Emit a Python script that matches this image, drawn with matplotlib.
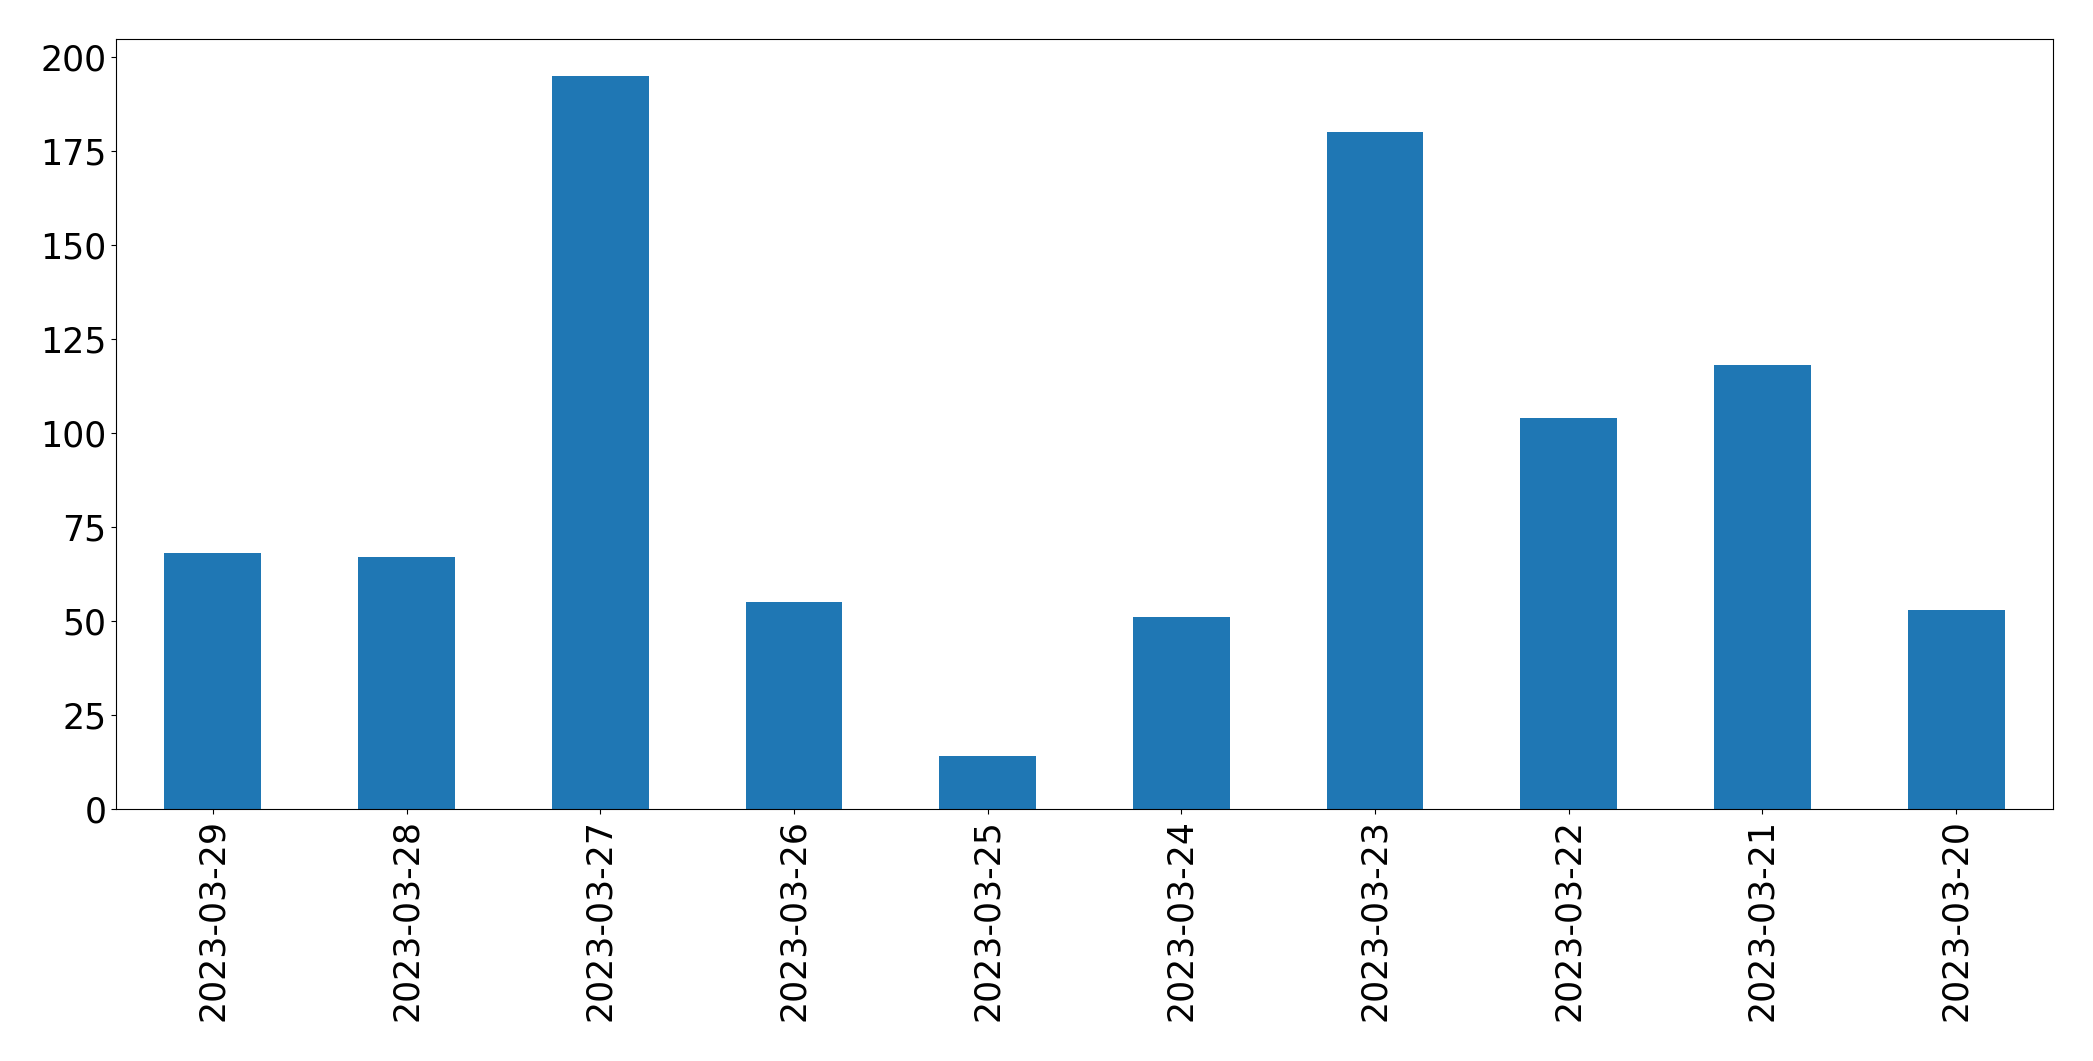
import matplotlib
matplotlib.use("Agg")
import matplotlib.pyplot as plt
import pandas as pd

dates = ["2023-03-29", "2023-03-28", "2023-03-27", "2023-03-26", "2023-03-25",
         "2023-03-24", "2023-03-23", "2023-03-22", "2023-03-21", "2023-03-20"]
counts = [68, 67, 195, 55, 14, 51, 180, 104, 118, 53]

s = pd.Series(counts, index=dates)

fig, ax = plt.subplots(figsize=(20.93, 10.61), dpi=100)
s.plot(kind="bar", ax=ax, color="#1f77b4")
ax.tick_params(axis="both", labelsize=25)
fig.subplots_adjust(left=116 / 2093, right=2053 / 2093, top=1 - 39 / 1061, bottom=1 - 809 / 1061)
fig.savefig("out.png", dpi=100)
